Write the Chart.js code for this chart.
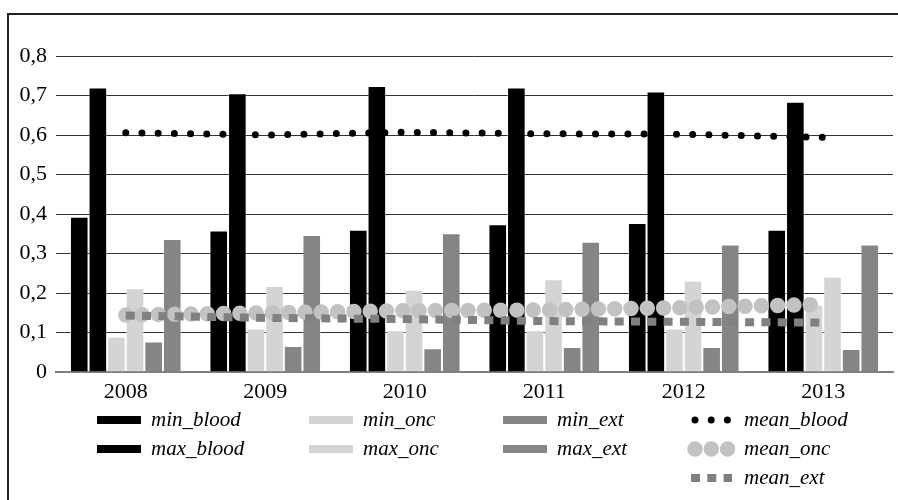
<!DOCTYPE html>
<html>
<head>
<meta charset="utf-8">
<script src="https://cdn.jsdelivr.net/npm/chart.js@4"></script>
<style>
  body { margin: 0; background: #fff; }
  #wrap { position: relative; width: 898px; height: 500px; overflow: hidden; background: #fff; }
  #frame { position: absolute; left: 7px; top: 13px; width: 900px; height: 500px;
           border-left: 2px solid #222; border-top: 2px solid #222; box-sizing: border-box; }
  #chart { position: absolute; left: 0; top: 0; }
  .item { position: absolute; height: 24px; display: flex; align-items: center;
          font-family: "Liberation Serif", "Times New Roman", serif; font-style: italic;
          font-size: 21px; color: #000; white-space: nowrap; }
  .item svg { margin-right: 10px; flex: none; overflow: visible; }
  .item span { position: relative; top: -1px; }
</style>
</head>
<body>
<div id="wrap">
  <div id="frame"></div>
  <canvas id="chart" width="898" height="500"></canvas>
  <div id="legend"></div>
</div>
<script>
const years = ['2008', '2009', '2010', '2011', '2012', '2013'];
const yTickLabels = ['0', '0,1', '0,2', '0,3', '0,4', '0,5', '0,6', '0,7', '0,8'];

const minBlood = [0.393, 0.358, 0.36, 0.374, 0.377, 0.36];
const maxBlood = [0.72, 0.706, 0.724, 0.72, 0.71, 0.684];
const minOnc = [0.089, 0.11, 0.106, 0.106, 0.11, 0.17];
const maxOnc = [0.212, 0.218, 0.208, 0.235, 0.231, 0.241];
const minExt = [0.077, 0.066, 0.06, 0.063, 0.063, 0.058];
const maxExt = [0.337, 0.347, 0.351, 0.33, 0.323, 0.323];
const meanBlood = [0.606, 0.6, 0.607, 0.603, 0.602, 0.594];
const meanOnc = [0.144, 0.15, 0.155, 0.157, 0.163, 0.171];
const meanExt = [0.143, 0.137, 0.134, 0.129, 0.127, 0.125];

const blackBar = '#000000';
const oncBar = '#d4d4d4';
const extBar = '#858585';
const serif = "'Liberation Serif', 'Times New Roman', serif";

function bar(label, data, color) {
  return {
    type: 'bar', label, data, backgroundColor: color,
    borderColor: 'rgba(255,255,255,0.35)', borderWidth: 1, order: 3
  };
}

function line(label, data, color, width, dash, cap, order) {
  return {
    type: 'line', label, data, borderColor: color, borderWidth: width,
    borderDash: dash, borderCapStyle: cap, pointRadius: 0, tension: 0,
    fill: false, order
  };
}

const datasets = [
  bar('min_blood', minBlood, blackBar),
  bar('max_blood', maxBlood, blackBar),
  bar('min_onc', minOnc, oncBar),
  bar('max_onc', maxOnc, oncBar),
  bar('min_ext', minExt, extBar),
  bar('max_ext', maxExt, extBar),
  line('mean_blood', meanBlood, '#000000', 7, [0, 16.2], 'round', 0),
  line('mean_onc', meanOnc, '#c2c2c2', 15.5, [0, 16.3], 'round', 2),
  line('mean_ext', meanExt, '#808080', 8, [9, 7.3], 'butt', 1)
];

new Chart(document.getElementById('chart'), {
  type: 'bar',
  data: { labels: years, datasets },
  options: {
    responsive: false,
    animation: false,
    layout: { padding: { left: 7, top: 56, right: 5, bottom: 88 } },
    datasets: { bar: { categoryPercentage: 0.8, barPercentage: 1.0 } },
    plugins: { legend: { display: false }, tooltip: { enabled: false } },
    scales: {
      x: {
        grid: { display: false },
        border: { color: '#808080', width: 2 },
        ticks: { color: '#000', padding: -1, font: { family: serif, size: 22 } },
        afterFit: (axis) => { axis.height = 40; }
      },
      y: {
        min: 0, max: 0.8,
        grid: { color: '#333', lineWidth: 1, drawTicks: false },
        border: { display: false },
        ticks: {
          stepSize: 0.1, padding: 9, color: '#000',
          font: { family: serif, size: 22 },
          callback: (v, i) => yTickLabels[i]
        },
        afterFit: (axis) => { axis.width = 49; }
      }
    }
  }
});

// legend laid out in columns like the original
const legendPos = {
  min_blood: [97, 420], max_blood: [97, 449],
  min_onc: [309, 420], max_onc: [309, 449],
  min_ext: [503, 420], max_ext: [503, 449],
  mean_blood: [690, 420], mean_onc: [690, 449], mean_ext: [690, 478]
};

function swatch(ds) {
  if (ds.type === 'bar') {
    return `<svg width="44" height="8"><rect x="0" y="0" width="44" height="8" fill="${ds.backgroundColor}"/></svg>`;
  }
  const dash = ds.borderDash.join(' ');
  const x1 = ds.borderCapStyle === 'round' ? 5 : 1;
  return `<svg width="44" height="18"><line x1="${x1}" y1="9" x2="42" y2="9" stroke="${ds.borderColor}"
    stroke-width="${ds.borderWidth}" stroke-dasharray="${dash}" stroke-linecap="${ds.borderCapStyle}"/></svg>`;
}

const legend = document.getElementById('legend');
datasets.forEach((ds) => {
  const [x, y] = legendPos[ds.label];
  const div = document.createElement('div');
  div.className = 'item';
  div.style.left = x + 'px';
  div.style.top = (y - 12) + 'px';
  div.innerHTML = swatch(ds) + `<span>${ds.label}</span>`;
  legend.appendChild(div);
});
</script>
</body>
</html>
